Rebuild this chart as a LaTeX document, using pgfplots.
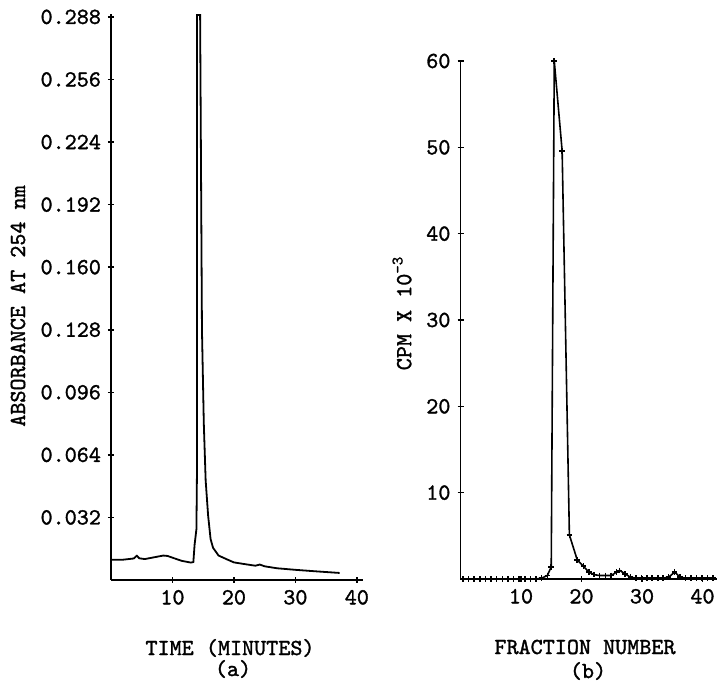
\documentclass[border=0pt]{standalone}
\usepackage{fontspec}
\usepackage{pgfplots}
\pgfplotsset{compat=1.18}
\setmonofont{lmmono10-regular}[Extension=.otf,FakeBold=1.4]
\newcommand\tw{\fontsize{11.5}{13}\selectfont\ttfamily}

\pgfplotsset{
  chrom/.style={
    scale only axis,
    axis x line*=bottom, axis y line*=left,
    x axis line style={-}, y axis line style={-},
    axis line style={line width=0.9pt},
    tick style={line width=0.8pt,black},
    tick align=center, major tick length=3pt,
    ticklabel style={font=\tw},
    clip=false,
  }
}

\begin{document}
\begin{tikzpicture}
\useasboundingbox (0,0) rectangle (359pt,342pt);

% (a) absorbance trace
\begin{axis}[chrom,
    at={(55.5pt,52pt)}, anchor=south west,
    width=126pt, height=283pt,
    xmin=0, xmax=41, ymin=0, ymax=0.2895,
    xtick={10,20,30,40}, xticklabels={10,20,30,40},
    ytick={0.032,0.064,0.096,0.128,0.160,0.192,0.224,0.256,0.288},
    yticklabels={0.032,0.064,0.096,0.128,0.160,0.192,0.224,0.256,0.288},
]
  \addplot[black,line width=0.9pt] coordinates {
    (0,0.0103) (2,0.0104) (3.7,0.0110) (4.2,0.0124) (4.6,0.0111) (5.5,0.0107)
    (7,0.0116) (8.5,0.0125) (9.2,0.0123) (10.2,0.0112) (11.5,0.0098) (13.0,0.0089)
    (13.4,0.0092) (13.6,0.0180) (13.75,0.0220) (13.9,0.0260) (14.0,0.060)
    (14.0,0.2890) (14.5,0.2890) (14.8,0.128) (15.1,0.080) (15.4,0.051)
    (15.8,0.033) (16.2,0.021) (16.6,0.0165) (17.5,0.0125) (18.9,0.0105)
    (20,0.0090) (22,0.0080) (23.5,0.0073) (24.2,0.0079) (25,0.0070)
    (27,0.0060) (30,0.0052) (33,0.0045) (37.2,0.0036)};
\end{axis}

% (b) radioactivity of fractions
\begin{axis}[chrom,
    at={(230.25pt,52.5pt)}, anchor=south west,
    width=128.25pt, height=259pt,
    xmin=0, xmax=42.4, ymin=0, ymax=60,
    xtick={10,20,30,40}, xticklabels={10,20,30,40},
    ytick={10,20,30,40,50,60}, yticklabels={10,20,30,40,50,60},
]
  \addplot[black,line width=0.8pt,mark=+,mark size=1.4pt] coordinates {
    (0.4,0) (1.33,0) (2.26,0) (3.19,0) (4.12,0) (5.05,0) (5.98,0) (6.91,0)
    (7.84,0) (8.77,0) (9.7,0) (10.63,0) (11.56,0) (12.49,0) (13.42,0.1)
    (14.35,0.4) (15.0,1.4) (15.5,60) (16.8,49.6) (18.0,5.1) (19.3,2.2)
    (20.3,1.5) (21.2,0.8) (22.1,0.5) (23.0,0.4) (24.0,0.4) (24.9,0.4)
    (25.8,0.8) (26.3,1.0) (27.2,0.6) (28.1,0.2) (29.0,0.1) (29.9,0.1)
    (30.8,0.1) (31.7,0.1) (32.6,0.1) (33.5,0.1) (34.4,0.2) (35.4,0.8)
    (36.3,0.2) (37.2,0.1) (38.1,0.1) (39.0,0.1) (39.9,0.1) (40.8,0.1) (41.7,0.1)};
\end{axis}

% axis titles
\node[font=\tw,rotate=90] at (9pt,189pt) {ABSORBANCE AT 254 nm};
\node[font=\tw,rotate=90] at (201pt,185.5pt) {CPM X 10\textsuperscript{-3}};
\node[font=\tw,inner sep=1pt] at (115pt,18pt) {TIME (MINUTES)};
\node[font=\tw,inner sep=1pt] at (116.5pt,7.5pt) {(a)};
\node[font=\tw,inner sep=1pt] at (292.5pt,18.5pt) {FRACTION NUMBER};
\node[font=\tw,inner sep=1pt] at (294pt,6.5pt) {(b)};
\end{tikzpicture}
\end{document}
